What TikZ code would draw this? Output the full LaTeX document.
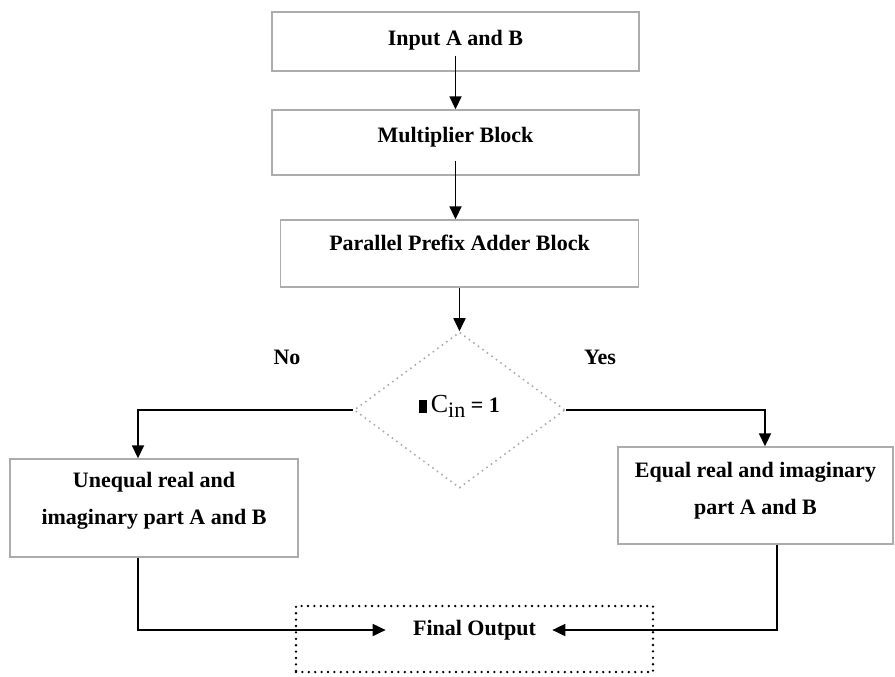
\documentclass[tikz,border=0pt]{standalone}
\usepackage{fontspec}
\setmainfont{Liberation Serif}
\usetikzlibrary{arrows.meta,shapes.geometric}

\begin{document}
\begin{tikzpicture}[
      x = .5pt, y = -.5pt,
      every node/.style = {
        align = center, font = \fontsize{11}{18.5}\selectfont\bfseries},
      block/.style = {rectangle, draw = gray!65, line width = .7pt, inner sep = 0pt},
      decision/.style = {diamond, draw = gray!65, dotted, line width = .8pt, inner sep = 0pt},
      arr/.style = {black, line width = .9pt, -{Triangle[length = 6.5pt, width = 6pt]}}
      ]
    \useasboundingbox (0,0) rectangle (895,676);
    \node[block, minimum width = 183.5pt, minimum height = 29.5pt, text depth = 3.9pt] (input) at (455.5,41.5) {Input A and B}; % 0
    \node[block, minimum width = 183.5pt, minimum height = 32.5pt, text depth = 7.9pt] (mult) at (455.5,142.5) {Multiplier Block}; % 1
    \node[block, minimum width = 179pt, minimum height = 33.5pt, text depth = 10.4pt] (ppa) at (459.5,253.5) {Parallel Prefix Adder Block}; % 2
    \node[decision, minimum width = 105.5pt, minimum height = 78pt, text depth = 6pt] (dec) at (459.5,410)
      {\rule{4pt}{6.5pt}\,{\mdseries\fontsize{13}{15}\selectfont C}\raisebox{-2.5pt}{\mdseries in} = 1}; % 3
    \node[block, minimum width = 144pt, minimum height = 49pt, text depth = 9.4pt] (unequal) at (154,508)
      {Unequal real and\\imaginary part A and B}; % 4
    \node[block, minimum width = 137.5pt, minimum height = 48.5pt, text depth = 6.9pt] (equal) at (755.5,495.5)
      {Equal real and imaginary\\part A and B}; % 5
    \node[draw, black, line width = 1.3pt, line cap = round, dash pattern = on 0pt off 3.2pt,
      minimum width = 178.5pt, minimum height = 33pt] (final) at (474.5,639) {}; % 6
    \node[inner sep = 0pt] (out) at (474.5,630) {Final Output}; % 7
    \node (lblno) at (287,357) {No};
    \node (lblyes) at (600,357) {Yes};
    \draw[arr] ([yshift = 8pt]input.south) -- (mult.north);
    \draw[arr] ([yshift = 7.5pt]mult.south) -- (mult.south |- ppa.north);
    \draw[arr] (ppa.south) -- (dec.north);
    \draw[arr] (dec.west) -| ([xshift = -8pt]unequal.north);
    \draw[arr] (dec.east) -| ([xshift = 4.75pt]equal.north);
    \draw[arr] ([xshift = -8pt]unequal.south) |- ([xshift = -13.5pt]out.west);
    \draw[arr] ([xshift = 10.75pt]equal.south) |- ([xshift = 8pt]out.east);
  \end{tikzpicture}
\end{document}
